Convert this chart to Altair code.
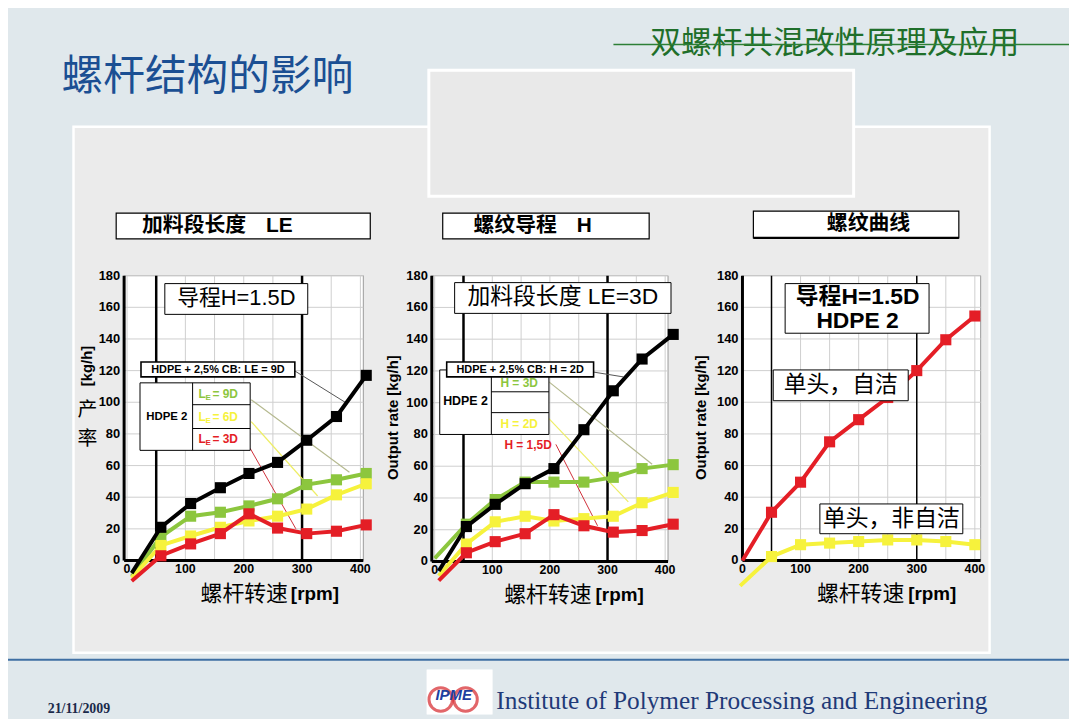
import altair as alt
import pandas as pd

# ---------------- data ----------------
# Panel 1: 加料段长度 LE  (导程 H = 1.5D); first entry = line start (no marker)
p1_rpm = [8, 58, 109, 160, 209, 258, 308, 359, 410]
p1_cb = [-8, 21, 36, 46, 55, 62, 76, 91, 117]
p1_le9 = [-10, 15, 28, 30.5, 34.5, 39, 48, 51, 55]
p1_le6 = [-11, 9.5, 15.5, 21, 25, 28, 32.5, 41.5, 48.5]
p1_le3 = [-13, 3, 10.5, 17, 29.5, 20.5, 17, 18.5, 22.5]

# Panel 2: 螺纹导程 H  (LE = 3D)
p2_rpm = [7, 55, 105, 157, 207, 259, 310, 360, 414]
p2_rpm_h3 = [0, 55, 105, 157, 207, 259, 310, 360, 414]
p2_cb = [-6, 22, 36, 49, 58.5, 83, 107.5, 127.5, 143]
p2_h3 = [2, 23.5, 39, 50, 50, 50, 53, 58.5, 61]
p2_h2 = [-9, 11, 25, 28.5, 25.5, 27, 28.5, 37, 43.5]
p2_h15 = [-12, 5.5, 12.5, 17.5, 29.5, 22.5, 18.5, 19.5, 23.5]

# Panel 3: 螺纹曲线
p3_rpm_self = [0, 50, 100, 150, 200, 250, 300, 350, 400]
p3_self = [0, 30.5, 49.5, 75, 89, 103, 120, 139.5, 154.5]
p3_rpm_non = [-4, 50, 100, 150, 200, 250, 300, 350, 400]
p3_non = [-16, 2.5, 10, 11, 12, 13, 13, 12, 10]

x_ticks = [0, 100, 200, 300, 400]
y_ticks = [0, 20, 40, 60, 80, 100, 120, 140, 160, 180]
x_grid = [0, 50, 100, 150, 200, 250, 300, 350, 400]
y_grid = [0, 20, 40, 60, 80, 100, 120, 140, 160, 180]
dividers = [50, 300]

# ---------------- style ----------------
BG = "#e0e8ec"
PANEL = "#ebebeb"
BLACK = "#000000"
GREEN = "#8cc63e"
YELLOW = "#f6f23c"
RED = "#e41e26"
CJK = "Noto Sans CJK SC"
MIX = "Liberation Sans, Noto Sans CJK SC"
W, H = 1069, 711
OFF = 8

one = pd.DataFrame({"k": [0]})


def V(p):
    return alt.value(p - OFF)


def box(x1, y1, x2, y2, fill="white", stroke="black", sw=1.0):
    return alt.Chart(one).mark_rect(fill=fill, stroke=stroke, strokeWidth=sw).encode(
        x=V(x1), x2=V(x2), y=V(y1), y2=V(y2))


def seg(x1, y1, x2, y2, color, sw=1.0):
    return alt.Chart(one).mark_rule(color=color, strokeWidth=sw).encode(
        x=V(x1), x2=V(x2), y=V(y1), y2=V(y2))


def txt(x, y, s, size, color="black", weight="normal", font=MIX, align="center",
        baseline="middle", angle=0, style="normal"):
    return alt.Chart(one).mark_text(text=s, fontSize=size, color=color, fontWeight=weight,
                                    font=font, align=align, baseline=baseline, angle=angle,
                                    fontStyle=style).encode(x=V(x), y=V(y))


def panel(xdom, xr, yr, series, div_w, leaders):
    SX = alt.Scale(domain=xdom, range=[xr[0] - OFF, xr[1] - OFF], nice=False, zero=False)
    SY = alt.Scale(domain=[0, 180], range=[yr[0] - OFF, yr[1] - OFF], nice=False, zero=False)

    def xd(v):
        return alt.XDatum(v, type="quantitative", scale=SX, axis=None)

    def yd(v):
        return alt.YDatum(v, type="quantitative", scale=SY, axis=None)

    bg = alt.Chart(one).mark_rect(fill="white", stroke="#9a9a9a", strokeWidth=1).encode(
        x=xd(xdom[0]), x2=alt.X2Datum(xdom[1]), y=yd(0), y2=alt.Y2Datum(180))
    gx = alt.Chart(pd.DataFrame({"v": x_grid})).mark_rule(color="#cfcfcf", strokeWidth=1).encode(
        x=alt.X("v:Q", scale=SX, axis=None), y=yd(0), y2=alt.Y2Datum(180))
    gy = alt.Chart(pd.DataFrame({"v": y_grid})).mark_rule(color="#cfcfcf", strokeWidth=1).encode(
        y=alt.Y("v:Q", scale=SY, axis=None), x=xd(xdom[0]), x2=alt.X2Datum(xdom[1]))
    dv = alt.Chart(pd.DataFrame({"v": dividers})).mark_rule(color="black", strokeWidth=div_w).encode(
        x=alt.X("v:Q", scale=SX, axis=None), y=yd(0), y2=alt.Y2Datum(180))
    # axis lines and tick labels, placed through the panel's scales
    ax_l = alt.Chart(one).mark_rule(color="black", strokeWidth=3).encode(
        x=xd(xdom[0]), y=yd(0), y2=alt.Y2Datum(180))
    ax_b = alt.Chart(one).mark_rule(color="black", strokeWidth=3).encode(
        x=xd(xdom[0]), x2=alt.X2Datum(xdom[1]), y=yd(0))
    xl = alt.Chart(pd.DataFrame({"v": x_ticks})).mark_text(
        font="Liberation Sans", fontWeight="bold", fontSize=12.5, color="black",
        baseline="top", dy=3).encode(
        x=alt.X("v:Q", scale=SX, axis=None), y=yd(0), text="v:Q")
    yl = alt.Chart(pd.DataFrame({"v": y_ticks})).mark_text(
        font="Liberation Sans", fontWeight="bold", fontSize=13, color="black",
        align="right", baseline="middle", dx=-4).encode(
        y=alt.Y("v:Q", scale=SY, axis=None), x=xd(xdom[0]), text="v:Q")
    layers = [bg, gx, gy, dv, ax_l, ax_b, xl, yl] + leaders
    for rpm, out, color in series:
        df = pd.DataFrame({"rpm": rpm, "out": out, "i": list(range(len(rpm)))})
        enc = dict(x=alt.X("rpm:Q", scale=SX, axis=None), y=alt.Y("out:Q", scale=SY, axis=None))
        layers.append(alt.Chart(df).mark_line(color=color, strokeWidth=4).encode(
            order="i:Q", **enc))
        layers.append(alt.Chart(df).transform_filter("datum.i > 0").mark_point(
            shape="square", filled=True, color=color, size=125, opacity=1).encode(**enc))
    return alt.layer(*layers)


# ---------------- slide decoration ----------------
deco = [
    box(74, 125, 997, 655, fill=PANEL, stroke="white", sw=2.5),
    box(432, 68, 860, 195, fill="#e9e9e9", stroke="white", sw=3),
    txt(62, 75, "螺杆结构的影响", 42, color="#1b4f93", font=CJK, align="left"),
    txt(655, 42, "双螺杆共混改性原理及应用", 31, color="#1f6f2a", font=CJK, align="left"),
    seg(618, 42, 1077, 42, "#2d7f36", 1.5),
    seg(0, 662, 1077, 662, "#3f6fa3", 2),
    # header boxes
    box(117, 212, 373, 238, sw=1.2),
    txt(143, 225, "加料段长度", 21, weight="bold", font=CJK, align="left"),
    txt(268, 225, "LE", 21, weight="bold", font=MIX, align="left"),
    box(446, 212, 654, 238, sw=1.2),
    txt(477, 225, "螺纹导程", 21, weight="bold", font=CJK, align="left"),
    txt(581, 225, "H", 21, weight="bold", font=MIX, align="left"),
    box(759, 210, 966, 237, sw=1.2),
    seg(759, 237, 966, 237, "black", 2.2),
    txt(875, 223, "螺纹曲线", 21, weight="bold", font=CJK),
    # footer
    txt(48, 712, "21/11/2009", 14, weight="bold", font="Liberation Serif", align="left",
        color="#1a2a4a"),
    box(430, 672, 496, 717, fill="white", stroke="white", sw=0.5),
    alt.Chart(one).mark_point(shape="circle", filled=False, stroke="#d7262b", strokeWidth=3,
                              size=560).encode(x=V(444), y=V(702)),
    alt.Chart(one).mark_point(shape="circle", filled=False, stroke="#d7262b", strokeWidth=3,
                              size=560).encode(x=V(469), y=V(702)),
    txt(457, 698, "IPME", 15, color="#1d3fa0", weight="bold", font="Liberation Sans",
        style="italic"),
    txt(500, 712, "Institute of Polymer Processing and Engineering", 25.5, color="#1f3a78",
        font="Liberation Serif", align="left", baseline="alphabetic"),
]

# ---------------- panels ----------------
lead1 = [
    seg(297, 371, 350, 404, "#555555", 1),
    seg(253, 400, 352, 473, "#b5b98f", 1.2),
    seg(253, 422, 320, 497, "#eeee66", 1.2),
    seg(252, 449, 298, 530, "#d0303a", 1),
]
lead2 = [
    seg(597, 372, 628, 377, "#555555", 1),
    seg(553, 382, 657, 465, "#b5b98f", 1.2),
    seg(553, 419, 633, 503, "#eeee66", 1.2),
    seg(560, 445, 602, 527, "#d0303a", 1),
]
panel1 = panel([-5, 405], [125, 366], [562, 275],
               [(p1_rpm, p1_le9, GREEN), (p1_rpm, p1_le6, YELLOW),
                (p1_rpm, p1_le3, RED), (p1_rpm, p1_cb, BLACK)], 2.5, lead1)
panel2 = panel([-5, 405], [435, 673], [563, 275],
               [(p2_rpm_h3, p2_h3, GREEN), (p2_rpm, p2_h2, YELLOW),
                (p2_rpm, p2_h15, RED), (p2_rpm, p2_cb, BLACK)], 2.5, lead2)
panel3 = panel([0, 410], [748, 988], [562, 275],
               [(p3_rpm_non, p3_non, YELLOW), (p3_rpm_self, p3_self, RED)], 1.5, [])

# ---------------- annotations ----------------
def sub_label(x, y, main, sub, rest, color, size=12):
    return [
        txt(x, y, main, size, color=color, weight="bold", font="Liberation Sans", align="left"),
        txt(x + 7, y + 4, sub, 8, color=color, weight="bold", font="Liberation Sans", align="left"),
        txt(x + 14, y, rest, size, color=color, weight="bold", font="Liberation Sans", align="left"),
    ]


ann = [
    # panel 1
    box(166, 283, 310, 314),
    txt(238, 298, "导程H=1.5D", 22),
    box(141, 383, 252, 451),
    seg(194, 383, 194, 451, "black", 1),
    seg(194, 405, 252, 405, "black", 1),
    seg(194, 429, 252, 429, "black", 1),
    txt(168, 417, "HDPE 2", 11.5, weight="bold", font="Liberation Sans"),
    box(142, 362, 297, 377, sw=1.6),
    txt(219.5, 370, "HDPE + 2,5% CB: LE = 9D", 11, weight="bold", font="Liberation Sans"),
] + sub_label(200, 394, "L", "E", "= 9D", GREEN) \
  + sub_label(200, 417, "L", "E", "= 6D", YELLOW) \
  + sub_label(200, 440, "L", "E", "= 3D", RED) + [
    # y title panel 1
    txt(88, 366, "[kg/h]", 15, weight="bold", font="Liberation Sans", angle=270),
    txt(88, 410, "产", 20, font=CJK),
    txt(88, 440, "率", 20, font=CJK),
    # panel 2
    box(458, 282, 676, 313),
    txt(567, 297, "加料段长度 LE=3D", 23),
    box(443, 370, 553, 435),
    seg(495, 370, 495, 435, "black", 1),
    seg(495, 392, 553, 392, "black", 1),
    seg(495, 413, 553, 413, "black", 1),
    txt(469, 401, "HDPE 2", 12.5, weight="bold", font="Liberation Sans"),
    box(450, 362, 598, 377, sw=1.6),
    txt(524, 370, "HDPE + 2,5% CB: H = 2D", 11, weight="bold", font="Liberation Sans"),
    txt(523, 383, "H = 3D", 12, color=GREEN, weight="bold", font="Liberation Sans"),
    txt(523, 424, "H = 2D", 12, color=YELLOW, weight="bold", font="Liberation Sans"),
    txt(532, 446, "H = 1,5D", 12, color=RED, weight="bold", font="Liberation Sans"),
    txt(396, 418, "Output rate [kg/h]", 15, weight="bold", font="Liberation Sans", angle=270),
    # panel 3
    box(791, 283, 936, 333),
    txt(864, 297, "导程H=1.5D", 23, weight="bold"),
    txt(864, 321, "HDPE 2", 23, weight="bold"),
    box(779, 370, 915, 401),
    txt(847, 385, "单头，自洁", 23, font=CJK),
    box(826, 505, 970, 535),
    txt(898, 520, "单头，非自洁", 23, font=CJK),
    txt(706, 418, "Output rate [kg/h]", 15, weight="bold", font="Liberation Sans", angle=270),
    # x titles
    txt(290, 596, "螺杆转速", 22, font=CJK, align="right"),
    txt(293, 596, "[rpm]", 19, weight="bold", font="Liberation Sans", align="left"),
    txt(596, 597, "螺杆转速", 22, font=CJK, align="right"),
    txt(600, 597, "[rpm]", 19, weight="bold", font="Liberation Sans", align="left"),
    txt(911, 596, "螺杆转速", 22, font=CJK, align="right"),
    txt(915, 596, "[rpm]", 19, weight="bold", font="Liberation Sans", align="left"),
]

chart = alt.layer(*deco, panel1, panel2, panel3, *ann).resolve_scale(
    x="independent", y="independent"
).properties(
    width=W, height=H, padding=0, background=BG,
    autosize=alt.AutoSizeParams(type="none"),
).configure_view(stroke=None)

chart.save("out.html", embed_options={"renderer": "svg", "actions": False})
